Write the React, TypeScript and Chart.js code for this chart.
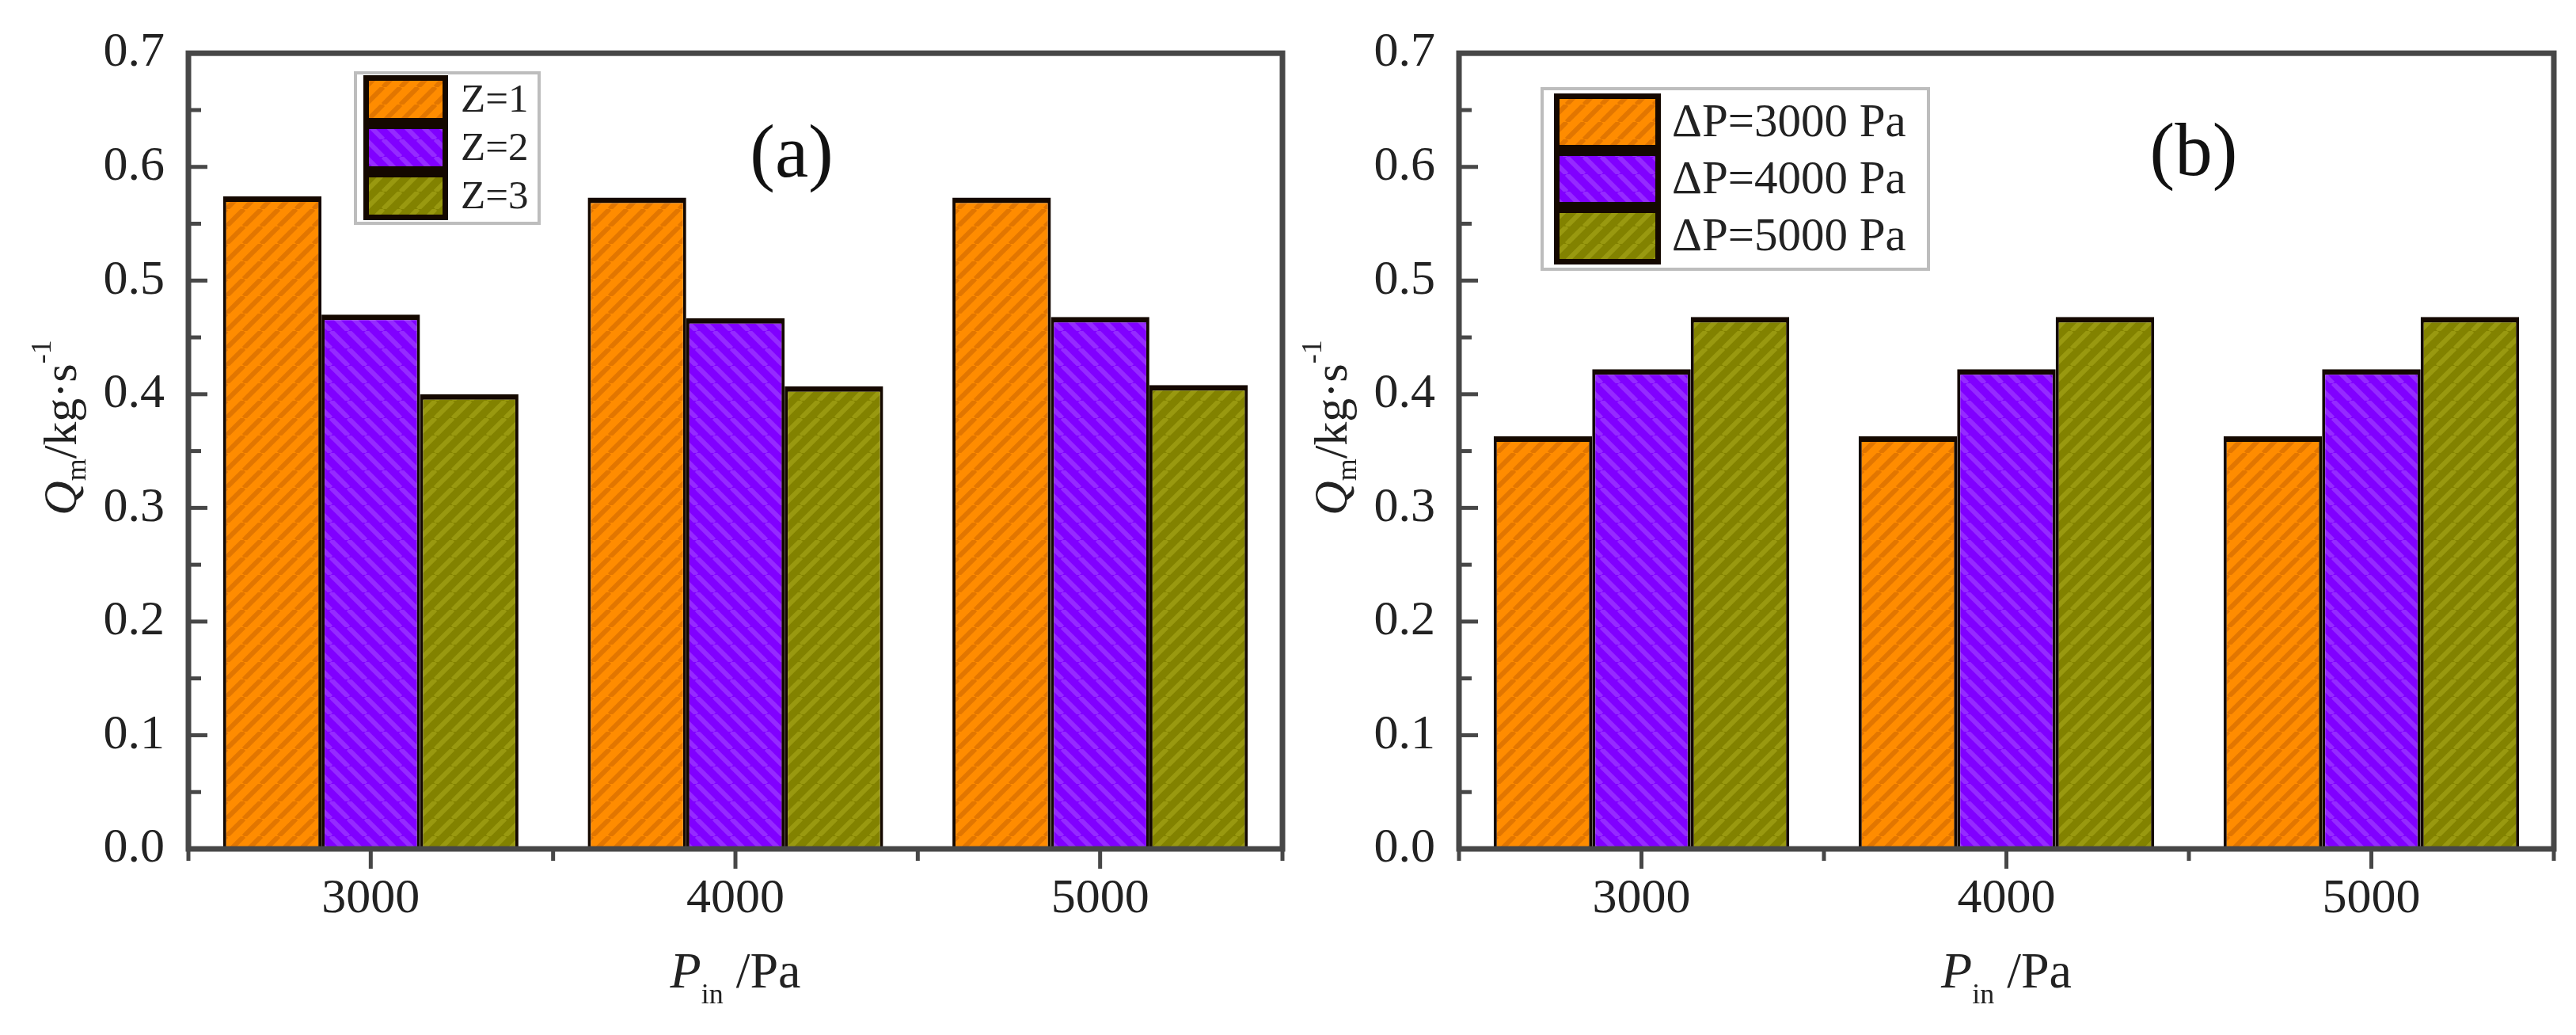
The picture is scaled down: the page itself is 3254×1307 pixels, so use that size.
import React, { useEffect, useRef } from 'react';
import { Chart, registerables } from 'chart.js';

Chart.register(...registerables);

// ---------------- data ----------------
const categories = ['3000', '4000', '5000'];

const zLabels = ['Z=1', 'Z=2', 'Z=3'];
const zOne = [0.574, 0.573, 0.573];
const zTwo = [0.47, 0.467, 0.468];
const zThree = [0.4, 0.407, 0.408];

const dpLabels = ['ΔP=3000 Pa', 'ΔP=4000 Pa', 'ΔP=5000 Pa'];
const dp3000 = [0.363, 0.363, 0.363];
const dp4000 = [0.422, 0.422, 0.422];
const dp5000 = [0.468, 0.468, 0.468];

const yMin = 0;
const yMax = 0.7;
const yStep = 0.1;
const yMinorStep = 0.05;

// ---------------- styles ----------------
const FONT = "'Liberation Serif', 'Times New Roman', serif";
const TEXT = '#222222';
const AXIS = '#474747';
const BAR_EDGE = '#140800';

function hatch(base: string, stripe: string, dir: number, size: number, lw: number) {
  const c = document.createElement('canvas');
  c.width = size;
  c.height = size;
  const g = c.getContext('2d')!;
  g.fillStyle = base;
  g.fillRect(0, 0, size, size);
  g.strokeStyle = stripe;
  g.lineWidth = lw;
  g.beginPath();
  for (let k = -1; k <= 1; k++) {
    if (dir > 0) {
      g.moveTo(k * size, size);
      g.lineTo(k * size + size, 0);
    } else {
      g.moveTo(k * size, 0);
      g.lineTo(k * size + size, size);
    }
  }
  g.stroke();
  return g.createPattern(c, 'repeat') as CanvasPattern;
}

type Run = { text: string; font: string; dy: number };

function drawRuns(ctx: CanvasRenderingContext2D, runs: Run[], cx: number, baseline: number) {
  const widths = runs.map((r) => {
    ctx.font = r.font;
    return ctx.measureText(r.text).width;
  });
  const total = widths.reduce((a, b) => a + b, 0);
  let x = cx - total / 2;
  ctx.textAlign = 'left';
  ctx.textBaseline = 'alphabetic';
  runs.forEach((r, i) => {
    ctx.font = r.font;
    ctx.fillText(r.text, x, baseline + r.dy);
    x += widths[i];
  });
}

type LegendSpec = {
  boxX: number; boxY: number; boxW: number; boxH: number;
  swX: number; swW: number; rowY: number; rowH: number;
  textX: number; fontSize: number;
};

type PanelSpec = {
  canvasLeft: number;
  canvasWidth: number;
  padRight: number;
  series: number[][];
  labels: string[];
  legend: LegendSpec;
  tag: string;
  tagX: number;
  tagY: number;
};

const leftSpec: PanelSpec = {
  canvasLeft: 0,
  canvasWidth: 1640,
  padRight: 20,
  series: [zOne, zTwo, zThree],
  labels: zLabels,
  legend: { boxX: 449, boxY: 92, boxW: 232, boxH: 190, swX: 459, swW: 107, rowY: 95, rowH: 61, textX: 582, fontSize: 51 },
  tag: '(a)',
  tagX: 1000,
  tagY: 198,
};

const rightSpec: PanelSpec = {
  canvasLeft: 1605,
  canvasWidth: 1649,
  padRight: 28,
  series: [dp3000, dp4000, dp5000],
  labels: dpLabels,
  legend: { boxX: 343, boxY: 112, boxW: 488, boxH: 228, swX: 358, swW: 135, rowY: 118, rowH: 72, textX: 507, fontSize: 59 },
  tag: '(b)',
  tagX: 1166,
  tagY: 196,
};

function decor(spec: PanelSpec) {
  return {
    id: 'decor',
    afterDatasetsDraw(chart: any) {
      const ctx: CanvasRenderingContext2D = chart.ctx;
      const { left, right, top, bottom } = chart.chartArea;
      const xs = chart.scales.x;
      const ys = chart.scales.y;
      ctx.save();

      // y ticks (inside)
      ctx.strokeStyle = AXIS;
      ctx.lineWidth = 5;
      const nMinor = Math.round((yMax - yMin) / yMinorStep);
      for (let i = 1; i < nMinor; i++) {
        const v = yMin + i * yMinorStep;
        const major = i % Math.round(yStep / yMinorStep) === 0;
        const py = ys.getPixelForValue(v);
        ctx.beginPath();
        ctx.moveTo(left, py);
        ctx.lineTo(left + (major ? 24 : 16), py);
        ctx.stroke();
      }
      // x ticks (outside)
      for (let i = 0; i < categories.length; i++) {
        const px = xs.getPixelForValue(i);
        ctx.beginPath();
        ctx.moveTo(px, bottom);
        ctx.lineTo(px, bottom + 25);
        ctx.stroke();
      }
      for (let i = 0; i <= categories.length; i++) {
        const px = xs.getPixelForValue(i - 0.5);
        ctx.beginPath();
        ctx.moveTo(px, bottom);
        ctx.lineTo(px, bottom + 15);
        ctx.stroke();
      }
      // frame
      ctx.lineWidth = 7;
      ctx.strokeRect(left, top, right - left, bottom - top);

      // legend
      const L = spec.legend;
      ctx.fillStyle = '#ffffff';
      ctx.fillRect(L.boxX, L.boxY, L.boxW, L.boxH);
      ctx.strokeStyle = '#bdbdbd';
      ctx.lineWidth = 4;
      ctx.strokeRect(L.boxX, L.boxY, L.boxW, L.boxH);
      chart.data.datasets.forEach((ds: any, i: number) => {
        const y0 = L.rowY + i * L.rowH;
        ctx.fillStyle = ds.backgroundColor;
        ctx.fillRect(L.swX, y0, L.swW, L.rowH);
        ctx.strokeStyle = BAR_EDGE;
        ctx.lineWidth = 7;
        ctx.strokeRect(L.swX + 3.5, y0 + 3.5, L.swW - 7, L.rowH - 7);
        ctx.fillStyle = TEXT;
        ctx.font = `${L.fontSize}px ${FONT}`;
        ctx.textAlign = 'left';
        ctx.textBaseline = 'middle';
        ctx.fillText(ds.label, L.textX, y0 + L.rowH / 2 + 2);
      });

      // panel tag
      ctx.fillStyle = '#111111';
      ctx.font = `95px ${FONT}`;
      ctx.textAlign = 'center';
      ctx.textBaseline = 'middle';
      ctx.fillText(spec.tag, spec.tagX, spec.tagY);

      // x title
      ctx.fillStyle = TEXT;
      drawRuns(
        ctx,
        [
          { text: 'P', font: `italic 64px ${FONT}`, dy: 0 },
          { text: 'in', font: `36px ${FONT}`, dy: 20 },
          { text: ' /Pa', font: `64px ${FONT}`, dy: 0 },
        ],
        (left + right) / 2,
        1247
      );

      // y title (rotated)
      ctx.save();
      ctx.translate(96, 540);
      ctx.rotate(-Math.PI / 2);
      drawRuns(
        ctx,
        [
          { text: 'Q', font: `italic 60px ${FONT}`, dy: 0 },
          { text: 'm', font: `36px ${FONT}`, dy: 12 },
          { text: '/kg·s', font: `60px ${FONT}`, dy: 0 },
          { text: '-1', font: `36px ${FONT}`, dy: -32 },
        ],
        0,
        0
      );
      ctx.restore();

      ctx.restore();
    },
  };
}

function buildConfig(spec: PanelSpec, pats: CanvasPattern[]): any {
  return {
    type: 'bar',
    data: {
      labels: categories,
      datasets: spec.series.map((s, i) => ({
        label: spec.labels[i],
        data: s,
        backgroundColor: pats[i],
        borderColor: BAR_EDGE,
        borderWidth: { top: 7, left: 4, right: 4, bottom: 0 },
        categoryPercentage: 0.81,
        barPercentage: 1.0,
      })),
    },
    options: {
      responsive: false,
      animation: false,
      devicePixelRatio: 1,
      layout: { padding: { top: 57, left: 0, right: spec.padRight, bottom: 0 } },
      plugins: {
        legend: { display: false },
        tooltip: { enabled: false },
        title: { display: false },
      },
      scales: {
        x: {
          type: 'category',
          offset: true,
          grid: { display: false, drawTicks: false },
          border: { display: false },
          ticks: { font: { family: FONT, size: 62 }, color: TEXT, padding: 27, maxRotation: 0 },
          afterFit: (s: any) => {
            s.height = 235;
          },
        },
        y: {
          min: yMin,
          max: yMax,
          grid: { display: false, drawTicks: false },
          border: { display: false },
          ticks: {
            stepSize: yStep,
            font: { family: FONT, size: 62 },
            color: TEXT,
            padding: 30,
            callback: (v: any) => Number(v).toFixed(1),
          },
          afterFit: (s: any) => {
            s.width = 238;
          },
        },
      },
    },
    plugins: [decor(spec)],
  };
}

export default function App() {
  const leftRef = useRef<HTMLCanvasElement>(null);
  const rightRef = useRef<HTMLCanvasElement>(null);

  useEffect(() => {
    document.body.style.margin = '0';
    const pats = [
      hatch('#ff8c00', '#e27600', 1, 22, 6),
      hatch('#8000ff', '#952bff', -1, 22, 6),
      hatch('#828200', '#999910', 1, 22, 6),
    ];
    const c1 = new Chart(leftRef.current!, buildConfig(leftSpec, pats));
    const c2 = new Chart(rightRef.current!, buildConfig(rightSpec, pats));
    return () => {
      c1.destroy();
      c2.destroy();
    };
  }, []);

  return (
    <div style={{ position: 'absolute', left: 0, top: 0, width: 3254, height: 1307, background: '#ffffff' }}>
      <canvas
        ref={leftRef}
        width={leftSpec.canvasWidth}
        height={1307}
        style={{ position: 'absolute', left: leftSpec.canvasLeft, top: 0, width: leftSpec.canvasWidth, height: 1307 }}
      />
      <canvas
        ref={rightRef}
        width={rightSpec.canvasWidth}
        height={1307}
        style={{ position: 'absolute', left: rightSpec.canvasLeft, top: 0, width: rightSpec.canvasWidth, height: 1307 }}
      />
    </div>
  );
}
